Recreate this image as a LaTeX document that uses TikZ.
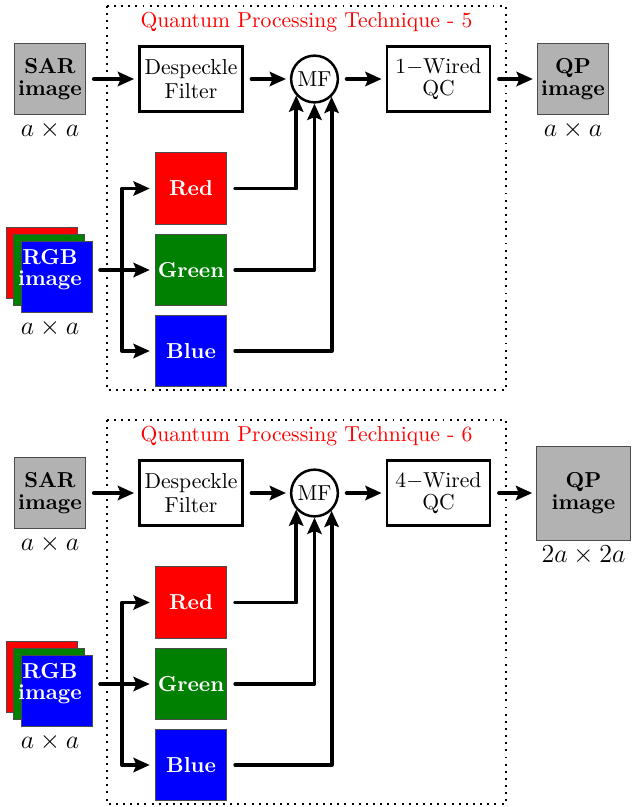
\documentclass[tikz,border=0pt]{standalone}
\usetikzlibrary{arrows.meta}
\tikzset{
  frame/.style={line width=0.9pt, dash pattern=on 0.9pt off 2.4pt},
  wbox/.style={draw, line width=1.15pt, minimum width=47.8pt, minimum height=29.9pt, align=center, inner sep=1pt},
  imgbox/.style={draw=black!70, line width=0.4pt, fill=black!30, minimum size=33.1pt, font=\bfseries, align=center, inner sep=0pt},
  chan/.style={draw=black!70, line width=0.4pt, minimum size=33.1pt, text=white, font=\bfseries, inner sep=0pt},
  mfnode/.style={circle, draw, line width=1.15pt, minimum size=21.6pt, inner sep=0pt},
  arr/.style={line width=1.8pt, -{Stealth[length=7.5pt,width=6.6pt,inset=1.3pt]}, line cap=round, line join=round},
  harr/.style={arr, shorten <=3.5pt, shorten >=1.8pt},
  ttl/.style={text=red},
  dimlbl/.style={font=\large, inner sep=0pt}
}
\definecolor{dgreen}{rgb}{0,0.5,0}
% #1 y-shift, #2 suffix, #3 technique number, #4 wires, #5 QP centre x, #6 QP size, #7 QP label, #8 QP label y
\newcommand\qppanel[8]{%
\begin{scope}[shift={(0,#1)}]
  \draw[frame] (107,6) rectangle (506,390);
  \node[ttl] (title#2) at (306.5,22) {Quantum Processing Technique - #3};
  \node[imgbox] (sar#2) at (50,79) {SAR\\[-2pt]image};
  \node[dimlbl] (sarl#2) at (50,130) {$a\times a$};
  \node[wbox] (desp#2) at (191,79) {Despeckle\\[-0.6pt]Filter};
  \node[mfnode] (mf#2) at (314.5,79) {MF};
  \node[wbox] (qc#2) at (438.5,79) {#4$-$Wired\\[-2pt]QC};
  \node[imgbox, minimum size=#6] (qp#2) at (#5,79) {QP\\[-2pt]image};
  \node[dimlbl] (qpl#2) at (#5,#8) {#7};
  % RGB stack
  \node[chan, fill=red] (rgbr#2) at (42,263) {};
  \node[chan, fill=dgreen] (rgbg#2) at (49,270) {};
  \node[chan, fill=blue] (rgbb#2) at (57,277) {};
  \node[font=\bfseries, text=white, align=center, inner sep=0pt] (rgbt#2) at (50,270) {RGB\\[-2.4pt]image};
  \node[dimlbl] (rgbl#2) at (50,328) {$a\times a$};
  % channels
  \node[chan, fill=red] (red#2) at (191,188.5) {Red};
  \node[chan, fill=dgreen] (green#2) at (191,270) {Green};
  \node[chan, fill=blue] (blue#2) at (191,351) {Blue};
  % main chain
  \draw[harr] (sar#2.east) -- (desp#2.west);
  \draw[harr] (desp#2.east) -- (mf#2.west);
  \draw[harr] (mf#2.east) -- (qc#2.west);
  \draw[harr] (qc#2.east) -- (qp#2.west);
  % RGB split
  \coordinate (j#2) at (122,270);
  \draw[arr, shorten <=3.2pt, shorten >=2.3pt] (rgbb#2.east |- green#2.west) -- (green#2.west);
  \draw[arr, shorten >=2.3pt] (j#2) |- (red#2.west);
  \draw[arr, shorten >=2.3pt] (j#2) |- (blue#2.west);
  % channels to MF
  \draw[arr, shorten <=3.7pt] (red#2.east) -| (mf#2.222);
  \draw[arr, shorten <=3.7pt] (green#2.east) -| (mf#2.south);
  \draw[arr, shorten <=3.7pt] (blue#2.east) -| (mf#2.314);
\end{scope}}
\begin{document}
\begin{tikzpicture}[x=0.462pt,y=-0.462pt]
  \useasboundingbox (0,0) rectangle (631,807);
  \qppanel{0}{a}{5}{1}{573}{33.1pt}{$a\times a$}{130}
  \qppanel{414}{b}{6}{4}{583.5}{43.4pt}{$2a\times 2a$}{141}
\end{tikzpicture}
\end{document}
